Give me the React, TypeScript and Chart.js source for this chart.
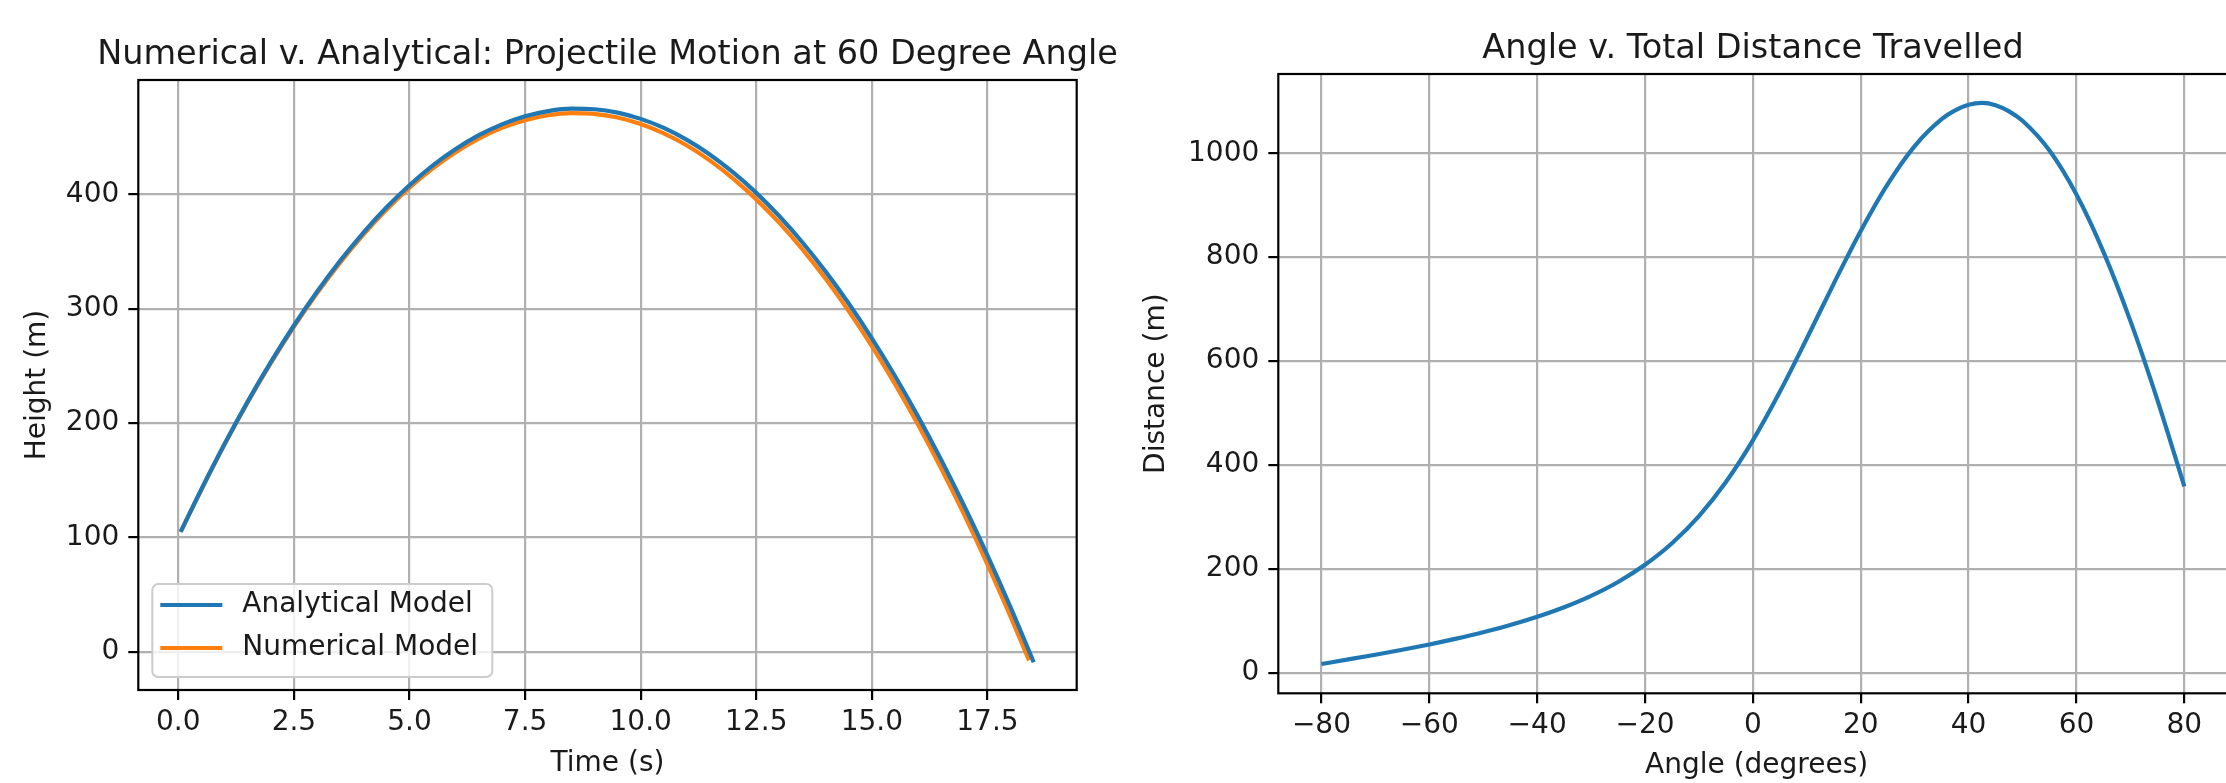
import React, { useEffect, useRef } from 'react';
import { Chart, registerables } from 'chart.js';

Chart.register(...registerables);

// ---------- data ----------
const timeAnalytical = [0.05, 0.5, 1, 1.5, 2, 2.5, 3, 3.5, 4, 4.5, 5, 5.5, 6, 6.5, 7, 7.5, 8, 8.5, 9, 9.5, 10, 10.5, 11, 11.5, 12, 12.5, 13, 13.5, 14, 14.5, 15, 15.5, 16, 16.5, 17, 17.5, 18, 18.5];
const heightAnalytical = [104.8, 142.1, 181.6, 218.7, 253.2, 285.3, 314.8, 341.9, 366.4, 388.5, 408.0, 425.1, 439.6, 451.7, 461.2, 468.3, 472.8, 474.9, 474.4, 471.5, 466.0, 458.1, 447.6, 434.7, 419.2, 401.3, 380.8, 357.9, 332.4, 304.5, 274.0, 241.1, 205.6, 167.7, 127.2, 84.3, 38.8, -9.2];

const timeNumerical = [0.05, 0.5, 1, 1.5, 2, 2.5, 3, 3.5, 4, 4.5, 5, 5.5, 6, 6.5, 7, 7.5, 8, 8.5, 9, 9.5, 10, 10.5, 11, 11.5, 12, 12.5, 13, 13.5, 14, 14.5, 15, 15.5, 16, 16.5, 17, 17.5, 18, 18.4];
const heightNumerical = [104.8, 141.8, 181.2, 218.0, 252.3, 284.1, 313.5, 340.3, 364.6, 386.4, 405.8, 422.6, 436.9, 448.7, 458.1, 464.9, 469.2, 471.0, 470.4, 467.2, 461.5, 453.3, 442.7, 429.5, 413.8, 395.6, 375.0, 351.8, 326.1, 297.9, 267.3, 234.1, 198.4, 160.2, 119.6, 76.4, 30.7, -7.6];

const angles = [-80, -75, -70, -65, -60, -55, -50, -45, -40, -35, -30, -25, -20, -15, -10, -5, 0, 5, 10, 15, 20, 25, 30, 35, 37.5, 40, 42.5, 45, 47.5, 50, 55, 60, 65, 70, 75, 80];
const distances = [16.8, 25.5, 34.5, 44.1, 54.3, 65.5, 77.8, 91.6, 107.5, 125.9, 147.9, 174.6, 207.7, 249.1, 301.4, 367.0, 447.2, 540.7, 643.4, 749.1, 850.4, 940.6, 1013.9, 1065.7, 1082.4, 1093.2, 1097.0, 1092.6, 1080.7, 1062.5, 1005.2, 920.4, 810.1, 677.3, 525.4, 358.7];

const timeTicks = [0, 2.5, 5, 7.5, 10, 12.5, 15, 17.5];
const timeTickLabels = ['0.0', '2.5', '5.0', '7.5', '10.0', '12.5', '15.0', '17.5'];
const heightTicks = [0, 100, 200, 300, 400];
const heightTickLabels = ['0', '100', '200', '300', '400'];
const angleTicks = [-80, -60, -40, -20, 0, 20, 40, 60, 80];
const angleTickLabels = ['\u221280', '\u221260', '\u221240', '\u221220', '0', '20', '40', '60', '80'];
const distanceTicks = [0, 200, 400, 600, 800, 1000];
const distanceTickLabels = ['0', '200', '400', '600', '800', '1000'];

// ---------- styling ----------
const FAMILY = '"DejaVu Sans", sans-serif';
const TEXT = '#1a1a1a';
const BLUE = '#1f77b4';
const ORANGE = '#ff7f0e';
const GRID = '#b0b0b0';
const tickFont = { family: FAMILY, size: 28, lineHeight: 1.2 };
const titleFont = { family: FAMILY, size: 33.5, weight: 'normal' as const, lineHeight: 1.2 };

const framePlugin = {
  id: 'frame',
  afterDatasetsDraw(chart: any) {
    const { ctx, chartArea } = chart;
    ctx.save();
    ctx.strokeStyle = '#000';
    ctx.lineWidth = 2.2;
    ctx.strokeRect(chartArea.left, chartArea.top, chartArea.right - chartArea.left, chartArea.bottom - chartArea.top);
    ctx.restore();
  },
};

const boxLegendPlugin = {
  id: 'boxLegend',
  afterDraw(chart: any) {
    const { ctx, chartArea } = chart;
    const w = 340, h = 93;
    const x = chartArea.left + 14;
    const y = chartArea.bottom - 13 - h;
    ctx.save();
    ctx.beginPath();
    ctx.roundRect(x, y, w, h, 6);
    ctx.fillStyle = 'rgba(255,255,255,0.8)';
    ctx.fill();
    ctx.strokeStyle = '#cccccc';
    ctx.lineWidth = 2;
    ctx.stroke();
    ctx.font = `28px ${FAMILY}`;
    ctx.textBaseline = 'middle';
    ctx.textAlign = 'left';
    chart.data.datasets.forEach((ds: any, i: number) => {
      const cy = y + 21 + i * 43;
      ctx.beginPath();
      ctx.moveTo(x + 8, cy);
      ctx.lineTo(x + 70, cy);
      ctx.strokeStyle = ds.borderColor;
      ctx.lineWidth = 4.2;
      ctx.stroke();
      ctx.fillStyle = TEXT;
      ctx.fillText(ds.label, x + 90, cy);
    });
    ctx.restore();
  },
};

function axis(opts: {
  min: number; max: number; ticks: number[]; labels: string[]; title: string;
  fit: (s: any) => void; padding: number; titlePad: any;
}) {
  return {
    type: 'linear' as const,
    min: opts.min,
    max: opts.max,
    afterFit: opts.fit,
    afterBuildTicks: (s: any) => { s.ticks = opts.ticks.map((v) => ({ value: v })); },
    ticks: {
      autoSkip: false,
      maxRotation: 0,
      minRotation: 0,
      padding: opts.padding,
      font: tickFont,
      color: TEXT,
      callback: (v: number) => { const i = opts.ticks.indexOf(v); return i >= 0 ? opts.labels[i] : ''; },
    },
    grid: { color: GRID, lineWidth: 2.2, drawTicks: true, tickLength: 10, tickColor: '#000', tickWidth: 2.2 },
    border: { display: false },
    title: { display: true, text: opts.title, font: tickFont, color: TEXT, padding: opts.titlePad },
  };
}

// empty right-hand box so the title centres over the plot area, as in the reference
function spacer(width: number) {
  return {
    type: 'linear' as const,
    position: 'right' as const,
    display: true,
    afterFit: (s: any) => { s.width = width; },
    grid: { display: false, drawTicks: false },
    ticks: { display: false },
    border: { display: false },
  };
}

function TrajectoryChart() {
  const ref = useRef<HTMLCanvasElement>(null);
  useEffect(() => {
    const chart = new Chart(ref.current!, {
      type: 'line',
      data: {
        datasets: [
          {
            label: 'Analytical Model',
            data: timeAnalytical.map((t, i) => ({ x: t, y: heightAnalytical[i] })),
            borderColor: BLUE, backgroundColor: BLUE, borderWidth: 4.2,
            pointRadius: 0, cubicInterpolationMode: 'monotone', fill: false,
          },
          {
            label: 'Numerical Model',
            data: timeNumerical.map((t, i) => ({ x: t, y: heightNumerical[i] })),
            borderColor: ORANGE, backgroundColor: ORANGE, borderWidth: 4.2,
            pointRadius: 0, cubicInterpolationMode: 'monotone', fill: false,
          },
        ],
      },
      options: {
        animation: false,
        responsive: false,
        maintainAspectRatio: false,
        layout: { padding: 0 },
        plugins: {
          legend: { display: false },
          tooltip: { enabled: false },
          title: {
            display: true,
            text: 'Numerical v. Analytical: Projectile Motion at 60 Degree Angle',
            font: titleFont, color: TEXT, padding: { top: 34.9, bottom: 4.9 },
          },
        },
        scales: {
          x: axis({ min: -0.865, max: 19.43, ticks: timeTicks, labels: timeTickLabels, title: 'Time (s)',
            fit: (s) => { s.height = 93; }, padding: 6, titlePad: { top: 0, bottom: 2.2 } }),
          y: axis({ min: -33.5, max: 500, ticks: heightTicks, labels: heightTickLabels, title: 'Height (m)',
            fit: (s) => { s.width = 138.3; }, padding: 9, titlePad: { top: 21.2, bottom: 0 } }),
          yPad: spacer(138.3),
        },
      } as any,
      plugins: [framePlugin, boxLegendPlugin],
    });
    return () => chart.destroy();
  }, []);
  return <canvas ref={ref} width={1215} height={783} style={{ position: 'absolute', left: 0, top: 0, width: 1215, height: 783 }} />;
}

function DistanceChart() {
  const ref = useRef<HTMLCanvasElement>(null);
  useEffect(() => {
    const chart = new Chart(ref.current!, {
      type: 'line',
      data: {
        datasets: [
          {
            label: 'Distance',
            data: angles.map((a, i) => ({ x: a, y: distances[i] })),
            borderColor: BLUE, backgroundColor: BLUE, borderWidth: 4.2,
            pointRadius: 0, cubicInterpolationMode: 'monotone', fill: false,
          },
        ],
      },
      options: {
        animation: false,
        responsive: false,
        maintainAspectRatio: false,
        layout: { padding: 0 },
        plugins: {
          legend: { display: false },
          tooltip: { enabled: false },
          title: {
            display: true,
            text: 'Angle v. Total Distance Travelled',
            font: titleFont, color: TEXT, padding: { top: 28.9, bottom: 4.9 },
          },
        },
        scales: {
          x: axis({ min: -88, max: 89.4, ticks: angleTicks, labels: angleTickLabels, title: 'Angle (degrees)',
            fit: (s) => { s.height = 89.7; }, padding: 6, titlePad: { top: 0, bottom: 0 } }),
          y: axis({ min: -39.7, max: 1152.6, ticks: distanceTicks, labels: distanceTickLabels, title: 'Distance (m)',
            fit: (s) => { s.width = 165.3; }, padding: 9, titlePad: { top: 27.2, bottom: 0 } }),
          yPad: spacer(158),
        },
      } as any,
      plugins: [framePlugin],
    });
    return () => chart.destroy();
  }, []);
  return <canvas ref={ref} width={1280} height={783} style={{ position: 'absolute', left: 1113, top: 0, width: 1280, height: 783 }} />;
}

export default function App() {
  return (
    <div style={{ position: 'absolute', left: 0, top: 0, width: 2226, height: 783, overflow: 'hidden', background: '#fff' }}>
      <DistanceChart />
      <TrajectoryChart />
    </div>
  );
}
